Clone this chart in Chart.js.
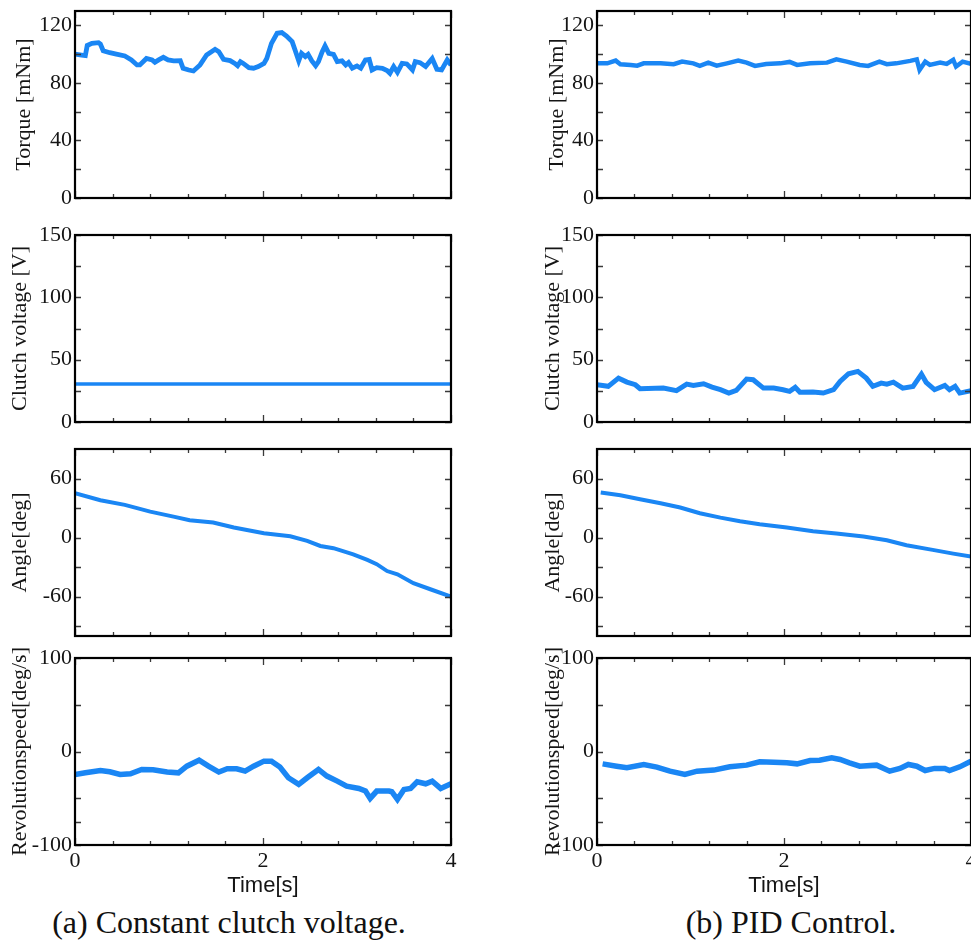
<!DOCTYPE html>
<html><head><meta charset="utf-8">
<script src="https://cdn.jsdelivr.net/npm/chart.js@4"></script>
<style>
html,body{margin:0;padding:0;width:971px;height:945px;overflow:hidden;background:#fff;}
canvas{position:absolute;}
.cap{position:absolute;font-family:'Liberation Serif','Times New Roman',serif;font-size:32px;color:#111;white-space:nowrap;transform:translateX(-50%);line-height:32px;}
</style></head><body>
<div class="cap" style="left:229px;top:906px;">(a) Constant clutch voltage.</div>
<div class="cap" style="left:791px;top:906px;">(b) PID Control.</div>
<script>
// ---------- data ----------
const timeTicks = [0, 2, 4];
const timeMinor = [0.4, 0.8, 1.2, 1.6, 2.4, 2.8, 3.2, 3.6];
const torqueTicks = [0, 40, 80, 120];
const torqueMinor = [20, 60, 100];
const voltTicks = [0, 50, 100, 150];
const voltMinor = [25, 75, 125];
const angleTicks = [-60, 0, 60];
const angleMinor = [-90, -30, 30];
const speedTicks = [-100, 0, 100];
const speedMinor = [-75, -50, 50];

// (a) constant clutch voltage
const timeTorqueA = [0, 0.07, 0.11, 0.13, 0.18, 0.25, 0.27, 0.30, 0.37, 0.44,
  0.53, 0.60, 0.66, 0.69, 0.76, 0.82, 0.85, 0.89, 0.94, 0.99,
  1.05, 1.12, 1.15, 1.21, 1.26, 1.33, 1.40, 1.49, 1.53, 1.58,
  1.65, 1.70, 1.73, 1.76, 1.79, 1.85, 1.90, 1.95, 2.01, 2.04,
  2.09, 2.15, 2.20, 2.25, 2.31, 2.34, 2.38, 2.41, 2.45, 2.48,
  2.52, 2.56, 2.59, 2.63, 2.66, 2.70, 2.75, 2.79, 2.84, 2.88,
  2.91, 2.95, 3.00, 3.04, 3.09, 3.13, 3.16, 3.21, 3.27, 3.32,
  3.35, 3.39, 3.43, 3.48, 3.53, 3.59, 3.62, 3.67, 3.73, 3.80,
  3.85, 3.90, 3.96, 4.00];
const torqueA = [100, 99.4, 99, 106, 107.5, 108, 107, 102.4, 101, 100,
  98.7, 96, 92.5, 92.5, 97, 96, 94.3, 96, 97.8, 96,
  95.3, 95.5, 90.2, 89, 88.3, 92.5, 99.4, 103.4, 101.7, 96.4,
  95.5, 93.6, 92, 94.8, 93.6, 90.6, 90.2, 91.4, 93.6, 97,
  107.5, 114.5, 115, 112.6, 108.7, 103, 95.3, 100.6, 98.3, 99.9,
  95.3, 92, 94.8, 101.7, 105.7, 100.6, 99.9, 94.8, 95.3, 92.5,
  94.1, 90.2, 91.8, 90.2, 96, 96.4, 89, 90.6, 90.2, 88.6,
  86.7, 91.4, 87.4, 93.6, 93.2, 89, 94.8, 94.1, 91.4, 97,
  89.5, 89, 96, 92.5];
const timeVoltA = [0, 1, 2, 3, 4];
const voltA = [30.5, 30.5, 30.5, 30.5, 30.5];
const timeAngleA = [0, 0.27, 0.53, 0.80, 1.06, 1.22, 1.47, 1.69, 2.01, 2.29,
  2.47, 2.61, 2.75, 2.96, 3.11, 3.21, 3.32, 3.43, 3.60, 3.78, 4.0];
const angleA = [45, 38, 33.2, 26.4, 21, 17.6, 15.3, 10.2, 4.4, 1.4,
  -3.4, -8.5, -10.8, -17, -22.7, -27, -34, -37.3, -46.4, -52.5, -60];
const timeSpeedA = [0, 0.11, 0.27, 0.37, 0.48, 0.59, 0.71, 0.83, 0.98, 1.10,
  1.19, 1.32, 1.42, 1.53, 1.62, 1.72, 1.81, 1.90, 2.01, 2.09,
  2.18, 2.27, 2.38, 2.47, 2.59, 2.68, 2.79, 2.89, 3.02, 3.09,
  3.14, 3.21, 3.34, 3.37, 3.43, 3.50, 3.57, 3.64, 3.73, 3.80,
  3.89, 4.0];
const speedA = [-24.6, -22.8, -20.3, -21.7, -24.6, -23.8, -19.2, -19.6, -22, -22.8,
  -15.7, -9.3, -15.7, -22, -18.5, -18.5, -21, -15.7, -10.3, -10.3,
  -16.7, -28.1, -35.2, -28.1, -19.2, -26.3, -31.7, -37, -39.5, -42.3,
  -50.2, -42.3, -42.3, -43, -51.2, -40.6, -39.5, -32.4, -34.5, -31.7,
  -39.5, -34.5];

// (b) PID control
const timeTorqueB = [0, 0.11, 0.20, 0.25, 0.36, 0.43, 0.50, 0.68, 0.82, 0.91,
  1.03, 1.10, 1.19, 1.28, 1.39, 1.51, 1.60, 1.69, 1.81, 1.96,
  2.06, 2.14, 2.28, 2.46, 2.56, 2.67, 2.81, 2.90, 3.02, 3.10,
  3.20, 3.35, 3.42, 3.45, 3.51, 3.56, 3.67, 3.74, 3.81, 3.84,
  3.91, 4.0];
const torqueB = [93.6, 93.6, 95.5, 93, 92.5, 92, 93.6, 93.6, 93, 94.8,
  93.6, 91.8, 94.1, 92, 93.6, 95.5, 94.1, 91.8, 93.2, 93.6,
  94.6, 92.5, 93.6, 94.1, 96.4, 94.8, 92.5, 91.8, 94.8, 93,
  93.6, 95.3, 96.4, 89, 94.8, 92.5, 94.1, 93.2, 96, 91.4,
  94.8, 93.2];
const timeVoltB = [0, 0.12, 0.23, 0.32, 0.41, 0.46, 0.71, 0.85, 0.96, 1.03,
  1.14, 1.23, 1.32, 1.41, 1.49, 1.60, 1.67, 1.78, 1.89, 1.99,
  2.06, 2.12, 2.17, 2.31, 2.42, 2.53, 2.60, 2.69, 2.79, 2.88,
  2.95, 3.04, 3.10, 3.17, 3.27, 3.38, 3.47, 3.52, 3.61, 3.72,
  3.77, 3.83, 3.88, 4.0];
const voltB = [29.9, 28.6, 35.2, 32, 29.9, 26.7, 27.2, 25.1, 30.4, 29.4,
  30.7, 28, 25.9, 23.2, 25.4, 34.4, 33.9, 27.2, 27.2, 25.9,
  24.6, 27.8, 23.8, 24, 23.2, 25.9, 32.6, 38.7, 40.6, 35.2,
  28.6, 31.2, 30.4, 32, 27.2, 28.6, 38.4, 31.8, 25.9, 29.4,
  25.9, 28.6, 23.2, 25.1];
const timeAngleB = [0.04, 0.25, 0.46, 0.68, 0.89, 1.10, 1.32, 1.53, 1.74, 2.03,
  2.31, 2.56, 2.85, 3.10, 3.31, 3.59, 3.81, 4.0];
const angleB = [45.8, 43, 39, 34.9, 30.5, 24.7, 20.3, 16.6, 13.6, 10.2,
  6.4, 4.1, 1, -2.7, -7.8, -12.5, -16.3, -19.3];
const timeSpeedB = [0.06, 0.21, 0.32, 0.50, 0.64, 0.78, 0.94, 1.07, 1.25, 1.42,
  1.60, 1.74, 1.89, 2.03, 2.14, 2.28, 2.38, 2.51, 2.60, 2.70,
  2.81, 2.99, 3.13, 3.24, 3.33, 3.42, 3.51, 3.61, 3.72, 3.77,
  3.88, 4.0];
const speedB = [-13.2, -15.7, -17.4, -13.9, -16.7, -21, -24.6, -21, -19.9, -16.4,
  -14.6, -11, -11.4, -12.1, -13.2, -9.6, -9.3, -6.8, -8.5, -12.1,
  -15.7, -14.6, -21, -18.1, -13.9, -15.7, -20.3, -18.1, -18.1, -20.3,
  -16.4, -10.3];

// ---------- layout / style ----------
const LINE_COLOR = '#1a86f4';
const SERIF = "'Liberation Serif','Times New Roman',serif";
const SANS = "'Liberation Sans',Arial,sans-serif";
const COLS = {
  a: {left: 0, areaW: 376, titleBase: 0},
  b: {left: 522, areaW: 374, titleBase: 11}
};
const ROW_TOP = [11, 235, 449, 658];
const AREA_H = 187;
const Y_W = 75;
const PAD_TOP = 20;

const framePlugin = {
  id: 'frame',
  afterDatasetsDraw(chart, args, opts) {
    const {ctx, chartArea: a} = chart;
    const x = chart.scales.x, y = chart.scales.y;
    ctx.save();
    ctx.strokeStyle = '#3a3a3a';
    ctx.lineWidth = 1.3;
    ctx.beginPath();
    [...opts.major, ...opts.minor].forEach(v => {
      const p = Math.round(y.getPixelForValue(v)) + 0.5;
      ctx.moveTo(a.left, p); ctx.lineTo(a.left + 6, p);
      ctx.moveTo(a.right, p); ctx.lineTo(a.right - 6, p);
    });
    timeMinor.forEach(v => {
      const p = Math.round(x.getPixelForValue(v)) + 0.5;
      ctx.moveTo(p, a.bottom); ctx.lineTo(p, a.bottom - 4);
      ctx.moveTo(p, a.top); ctx.lineTo(p, a.top + 4);
    });
    timeTicks.forEach(v => {
      const p = Math.round(x.getPixelForValue(v)) + 0.5;
      ctx.moveTo(p, a.bottom); ctx.lineTo(p, a.bottom - 7);
      ctx.moveTo(p, a.top); ctx.lineTo(p, a.top + 7);
    });
    ctx.stroke();
    ctx.strokeStyle = '#000';
    ctx.lineWidth = 2.2;
    ctx.strokeRect(a.left, a.top, a.right - a.left, a.bottom - a.top);
    ctx.restore();
  }
};

const panels = [
  {col: 'a', row: 0, t: timeTorqueA, v: torqueA, min: 0, max: 130, major: torqueTicks, minor: torqueMinor, title: 'Torque [mNm]', tpad: 11.4, lw: 4.8},
  {col: 'a', row: 1, t: timeVoltA, v: voltA, min: 0, max: 150, major: voltTicks, minor: voltMinor, title: 'Clutch voltage [V]', tpad: 7.4, lw: 3.5},
  {col: 'a', row: 2, t: timeAngleA, v: angleA, min: -100, max: 90, major: angleTicks, minor: angleMinor, title: 'Angle[deg]', tpad: 7.4, lw: 4},
  {col: 'a', row: 3, t: timeSpeedA, v: speedA, min: -100, max: 100, major: speedTicks, minor: speedMinor, title: 'Revolutionspeed[deg/s]', tpad: 7.4, lw: 5.5},
  {col: 'b', row: 0, t: timeTorqueB, v: torqueB, min: 0, max: 130, major: torqueTicks, minor: torqueMinor, title: 'Torque [mNm]', tpad: 11.4, lw: 4.5},
  {col: 'b', row: 1, t: timeVoltB, v: voltB, min: 0, max: 150, major: voltTicks, minor: voltMinor, title: 'Clutch voltage [V]', tpad: 7.4, lw: 5},
  {col: 'b', row: 2, t: timeAngleB, v: angleB, min: -100, max: 90, major: angleTicks, minor: angleMinor, title: 'Angle[deg]', tpad: 7.4, lw: 4},
  {col: 'b', row: 3, t: timeSpeedB, v: speedB, min: -100, max: 100, major: speedTicks, minor: speedMinor, title: 'Revolutionspeed[deg/s]', tpad: 7.4, lw: 5.5}
];

panels.forEach(p => {
  const c = COLS[p.col];
  const bottomRow = p.row === 3;
  const xH = bottomRow ? 54 : 0;
  const padBottom = bottomRow ? 0 : 20;
  const canvas = document.createElement('canvas');
  const W = Y_W + c.areaW + 20;
  const H = PAD_TOP + AREA_H + xH + padBottom;
  canvas.width = W; canvas.height = H;
  canvas.style.left = c.left + 'px';
  canvas.style.top = (ROW_TOP[p.row] - PAD_TOP) + 'px';
  canvas.style.width = W + 'px'; canvas.style.height = H + 'px';
  document.body.appendChild(canvas);

  new Chart(canvas, {
    type: 'line',
    data: {
      datasets: [{
        data: p.t.map((t, i) => ({x: t, y: p.v[i]})),
        borderColor: LINE_COLOR,
        borderWidth: p.lw,
        pointRadius: 0,
        tension: 0,
        fill: false
      }]
    },
    options: {
      responsive: false,
      animation: false,
      events: [],
      layout: {autoPadding: false, padding: {left: 0, right: 20, top: PAD_TOP, bottom: padBottom}},
      plugins: {
        legend: {display: false},
        tooltip: {enabled: false},
        frame: {major: p.major, minor: p.minor}
      },
      scales: {
        x: {
          type: 'linear', position: 'bottom', min: 0, max: 4,
          grid: {display: false, drawTicks: false},
          border: {display: false},
          afterBuildTicks: s => { s.ticks = timeTicks.map(v => ({value: v})); },
          afterFit: s => { s.height = xH; },
          ticks: {
            display: bottomRow, padding: 3, maxRotation: 0, autoSkip: false,
            color: '#151515', font: {family: SERIF, size: 22},
            callback: v => String(v)
          },
          title: {
            display: bottomRow, text: 'Time[s]', color: '#151515',
            font: {family: SANS, size: 22}, padding: {top: 0, bottom: 0}
          }
        },
        y: {
          type: 'linear', position: 'left', min: p.min, max: p.max,
          grid: {display: false, drawTicks: false},
          border: {display: false},
          afterBuildTicks: s => { s.ticks = p.major.map(v => ({value: v})); },
          afterFit: s => { s.width = Y_W; },
          ticks: {
            padding: 3, autoSkip: false, color: '#151515',
            font: {family: SERIF, size: 22},
            callback: v => String(v)
          },
          title: {
            display: true, text: p.title, color: '#151515',
            font: {family: SERIF, size: 22},
            padding: {top: p.tpad + c.titleBase, bottom: 0}
          }
        }
      }
    },
    plugins: [framePlugin]
  });
});
</script>
</body></html>
